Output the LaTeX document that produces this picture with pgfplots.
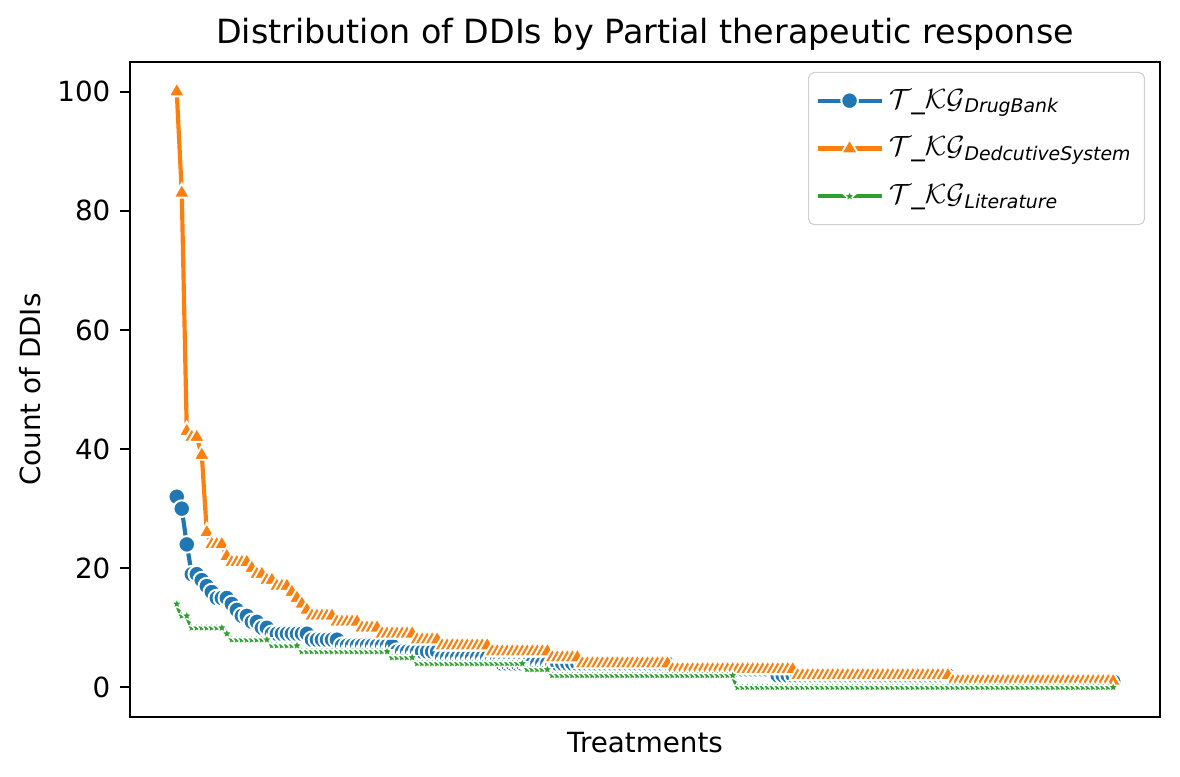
\documentclass[border=0pt]{standalone}
\usepackage{amsmath}
\usepackage{fontspec}
\setmainfont{DejaVu Sans}
\usepackage{pgfplots}
\usepackage{pgfplotstable}
\pgfplotsset{compat=1.18}

\definecolor{tabblue}{HTML}{1F77B4}
\definecolor{taborange}{HTML}{FF7F0E}
\definecolor{tabgreen}{HTML}{2CA02C}

% filled five-point star, like matplotlib's '*'
\pgfdeclareplotmark{fstar}{%
  \pgfpathmoveto{\pgfpointpolar{90}{\pgfplotmarksize}}%
  \pgfpathlineto{\pgfpointpolar{126}{0.45\pgfplotmarksize}}%
  \pgfpathlineto{\pgfpointpolar{162}{\pgfplotmarksize}}%
  \pgfpathlineto{\pgfpointpolar{198}{0.45\pgfplotmarksize}}%
  \pgfpathlineto{\pgfpointpolar{234}{\pgfplotmarksize}}%
  \pgfpathlineto{\pgfpointpolar{270}{0.45\pgfplotmarksize}}%
  \pgfpathlineto{\pgfpointpolar{306}{\pgfplotmarksize}}%
  \pgfpathlineto{\pgfpointpolar{342}{0.45\pgfplotmarksize}}%
  \pgfpathlineto{\pgfpointpolar{18}{\pgfplotmarksize}}%
  \pgfpathlineto{\pgfpointpolar{54}{0.45\pgfplotmarksize}}%
  \pgfpathclose
  \pgfusepathqfillstroke}

% treatment index, DrugBank, DedcutiveSystem, Literature
\pgfplotstableread{
i db ded lit
0 32 100 14
1 30 83 12
2 24 43 12
3 19 42 10
4 19 42 10
5 18 39 10
6 17 26 10
7 16 24 10
8 15 24 10
9 15 24 10
10 15 22 9
11 14 21 8
12 13 21 8
13 12 21 8
14 12 21 8
15 11 20 8
16 11 19 8
17 10 19 8
18 10 18 8
19 9 18 7
20 9 17 7
21 9 17 7
22 9 17 7
23 9 16 7
24 9 15 7
25 9 14 6
26 9 13 6
27 8 12 6
28 8 12 6
29 8 12 6
30 8 12 6
31 8 12 6
32 8 11 6
33 7 11 6
34 7 11 6
35 7 11 6
36 7 11 6
37 7 10 6
38 7 10 6
39 7 10 6
40 7 10 6
41 7 9 6
42 7 9 6
43 7 9 5
44 6 9 5
45 6 9 5
46 6 9 5
47 6 9 5
48 6 8 4
49 6 8 4
50 6 8 4
51 6 8 4
52 6 8 4
53 5 7 4
54 5 7 4
55 5 7 4
56 5 7 4
57 5 7 4
58 5 7 4
59 5 7 4
60 5 7 4
61 5 7 4
62 5 7 4
63 5 6 4
64 5 6 4
65 4 6 4
66 4 6 4
67 4 6 4
68 4 6 4
69 4 6 4
70 4 6 3
71 4 6 3
72 4 6 3
73 4 6 3
74 4 6 3
75 4 5 2
76 4 5 2
77 4 5 2
78 4 5 2
79 4 5 2
80 4 5 2
81 4 4 2
82 4 4 2
83 4 4 2
84 4 4 2
85 4 4 2
86 4 4 2
87 4 4 2
88 4 4 2
89 4 4 2
90 4 4 2
91 4 4 2
92 4 4 2
93 4 4 2
94 4 4 2
95 4 4 2
96 4 4 2
97 4 4 2
98 4 4 2
99 3 3 2
100 3 3 2
101 3 3 2
102 3 3 2
103 3 3 2
104 3 3 2
105 3 3 2
106 3 3 2
107 3 3 2
108 3 3 2
109 3 3 2
110 3 3 2
111 3 3 2
112 3 3 0
113 3 3 0
114 3 3 0
115 3 3 0
116 3 3 0
117 3 3 0
118 3 3 0
119 3 3 0
120 2 3 0
121 2 3 0
122 2 3 0
123 2 3 0
124 2 2 0
125 2 2 0
126 2 2 0
127 2 2 0
128 2 2 0
129 2 2 0
130 2 2 0
131 2 2 0
132 2 2 0
133 2 2 0
134 2 2 0
135 2 2 0
136 2 2 0
137 2 2 0
138 2 2 0
139 2 2 0
140 2 2 0
141 2 2 0
142 2 2 0
143 2 2 0
144 2 2 0
145 2 2 0
146 2 2 0
147 2 2 0
148 2 2 0
149 2 2 0
150 2 2 0
151 2 2 0
152 2 2 0
153 2 2 0
154 2 2 0
155 1 1 0
156 1 1 0
157 1 1 0
158 1 1 0
159 1 1 0
160 1 1 0
161 1 1 0
162 1 1 0
163 1 1 0
164 1 1 0
165 1 1 0
166 1 1 0
167 1 1 0
168 1 1 0
169 1 1 0
170 1 1 0
171 1 1 0
172 1 1 0
173 1 1 0
174 1 1 0
175 1 1 0
176 1 1 0
177 1 1 0
178 1 1 0
179 1 1 0
180 1 1 0
181 1 1 0
182 1 1 0
183 1 1 0
184 1 1 0
185 1 1 0
186 1 1 0
187 1 1 0
}\ddis

\begin{document}
\begin{tikzpicture}
  \begin{axis}[
    scale only axis,
    width=371pt, height=236pt,
    xmin=-9.35, xmax=196.35,
    ymin=-5, ymax=105,
    xtick=\empty,
    ytick={0,20,...,100},
    ytick pos=left,
    tick align=outside,
    major tick length=3.5pt,
    tick style={black, line width=0.8pt},
    axis line style={line width=0.8pt},
    ticklabel style={font=\fontsize{10}{12}\selectfont},
    /pgf/number format/assume math mode=true,
    title={Distribution of DDIs by Partial therapeutic response},
    title style={font=\fontsize{12}{14}\selectfont, yshift=-5.5pt},
    xlabel={Treatments},
    ylabel={Count of DDIs},
    label style={font=\fontsize{10}{12}\selectfont},
    xlabel style={yshift=1.6pt},
    ylabel style={yshift=-1pt},
    legend cell align=left,
    legend style={at={(1,1)}, anchor=north east, xshift=-5.4pt, yshift=-3.6pt,
      draw=black!18, rounded corners=2pt, fill=white,
      font=\fontsize{9.7}{11.6}\selectfont,
      row sep=4.9pt, inner xsep=2.5pt, inner ysep=4pt},
    legend image code/.code={%
      \draw[mark repeat=2, mark phase=2, #1]
        plot coordinates {(0pt,0pt) (11.5pt,0pt) (23pt,0pt)};},
  ]
    \addplot[tabblue, line width=1.5pt, mark=*, mark size=3pt,
      mark options={fill=tabblue, draw=white, line width=0.7pt}]
      table[x=i, y=db] {\ddis};
    \addlegendentry{$\mathcal{T}$\_$\mathcal{KG}_{\textit{DrugBank}}$}
    \addplot[taborange, line width=1.5pt, mark=triangle*, mark size=3.4pt,
      mark options={fill=taborange, draw=white, line width=0.7pt}]
      table[x=i, y=ded] {\ddis};
    \addlegendentry{$\mathcal{T}$\_$\mathcal{KG}_{\textit{DedcutiveSystem}}$}
    \addplot[tabgreen, line width=1.5pt, mark=fstar, mark size=2.1pt,
      mark options={fill=tabgreen, draw=white, line width=0.5pt}]
      table[x=i, y=lit] {\ddis};
    \addlegendentry{$\mathcal{T}$\_$\mathcal{KG}_{\textit{Literature}}$}
  \end{axis}
  \pgfresetboundingbox
  \path (current axis.south west) ++(-46.8pt,-21.25pt) coordinate (bbl)
        (current axis.north east) ++(7.2pt,22.3pt) coordinate (bbr);
  \path (bbl) rectangle (bbr);
\end{tikzpicture}
\end{document}
